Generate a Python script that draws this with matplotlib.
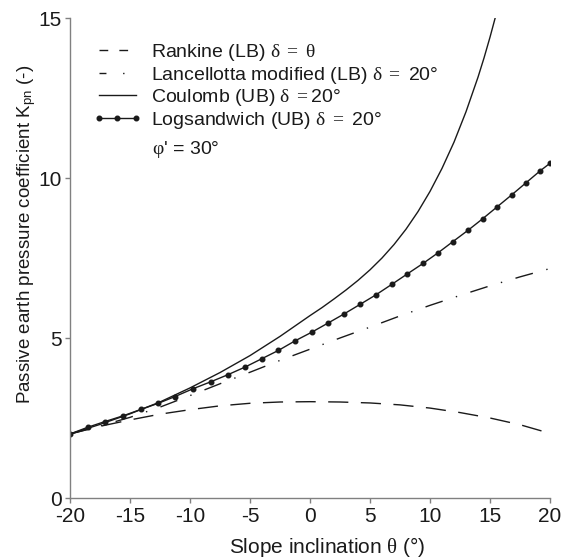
import matplotlib
matplotlib.use("Agg")
import matplotlib.pyplot as plt
from matplotlib.lines import Line2D

plt.rcParams['font.family'] = ['Liberation Sans', 'DejaVu Sans']
plt.rcParams['mathtext.fontset'] = 'custom'
plt.rcParams['mathtext.rm'] = 'Liberation Serif'
plt.rcParams['mathtext.it'] = 'Liberation Serif:italic'
plt.rcParams['mathtext.sf'] = 'Liberation Sans'
plt.rcParams['lines.scale_dashes'] = False

# ---- data ----
theta_grid = [-20, -17.5, -15, -12.5, -10, -7.5, -5, -2.5, 0, 2.5, 5, 7.5, 10, 12.5, 15, 17.5, 20]
rankine_k = [2.0, 2.24, 2.44, 2.62, 2.76, 2.88, 2.96, 3.0, 3.01, 3.0, 2.97, 2.91, 2.81, 2.67, 2.5, 2.29, 2.02]
lancellotta_k = [2.0, 2.25, 2.52, 2.84, 3.2, 3.57, 3.93, 4.3, 4.65, 5.0, 5.34, 5.69, 6.02, 6.33, 6.63, 6.91, 7.17]

coulomb_theta = [-20, -17.5, -15, -12.5, -10, -7.5, -5, -2.5, 0, 1, 2, 3, 4, 5, 6, 7, 8, 9, 10,
                 11, 12, 13, 14, 14.5, 15, 15.43]
coulomb_k = [2.0, 2.3, 2.63, 3.0, 3.44, 3.92, 4.45, 5.05, 5.7, 5.95, 6.22, 6.5, 6.8, 7.13, 7.5, 7.92,
             8.4, 8.95, 9.58, 10.3, 11.12, 12.07, 13.15, 13.75, 14.4, 15.0]

logsandwich_theta = [-20, -18.53, -17.08, -15.56, -14.08, -12.64, -11.25, -9.78, -8.28, -6.86, -5.42,
                     -4.03, -2.64, -1.25, 0.14, 1.47, 2.83, 4.17, 5.5, 6.83, 8.1, 9.42, 10.7, 11.9,
                     13.2, 14.4, 15.6, 16.8, 18.0, 19.2, 20.0]
logsandwich_k = [2.0, 2.21, 2.39, 2.57, 2.77, 2.96, 3.17, 3.41, 3.63, 3.85, 4.09, 4.35, 4.61, 4.91,
                 5.18, 5.46, 5.75, 6.05, 6.35, 6.68, 7.0, 7.33, 7.67, 8.01, 8.375, 8.73, 9.1, 9.47,
                 9.85, 10.23, 10.46]

x_ticks = [-20, -15, -10, -5, 0, 5, 10, 15, 20]
y_ticks = [0, 5, 10, 15]

labels = [r"Rankine (LB) $\mathrm{\delta\ =\ \theta}$",
          r"Lancellotta modified (LB) $\mathrm{\delta\ =}$ 20°",
          r"Coulomb (UB) $\mathrm{\delta\ =}$20°",
          r"Logsandwich (UB) $\mathrm{\delta\ =}$ 20°"]

# ---- figure ----
fig = plt.figure(figsize=(5.62, 5.60), dpi=100)
ax = fig.add_axes([70/562, 62/560, 480/562, 480/560])

col = '#1a1a1a'
lw = 1.0
ax.plot(theta_grid, rankine_k, color=col, lw=lw, linestyle=(0, (14.5, 9)))
ax.plot(theta_grid, lancellotta_k, color=col, lw=lw, linestyle=(0, (13, 10, 1, 10)))
ax.plot(coulomb_theta, coulomb_k, color=col, lw=lw)
ax.plot(logsandwich_theta, logsandwich_k, color=col, lw=lw, marker='o', markersize=3.3)

ax.set_xlim(-20, 20)
ax.set_ylim(0, 15)
ax.set_xticks(x_ticks)
ax.set_yticks(y_ticks)
ax.set_xticklabels([str(v) for v in x_ticks])

for s in ['top', 'right']:
    ax.spines[s].set_visible(False)
for s in ['left', 'bottom']:
    ax.spines[s].set_color('#808080')
    ax.spines[s].set_linewidth(1.0)
ax.tick_params(direction='out', length=3.6, width=1.0, color='#808080',
               labelsize=15, labelcolor='#1a1a1a')
ax.tick_params(axis='x', pad=3.2)
ax.tick_params(axis='y', pad=2.5)

ax.set_xlabel(r"Slope inclination $\mathrm{\theta}$ (°)", fontsize=15, color='#1a1a1a')
ax.xaxis.set_label_coords(0.535, -0.077)
ax.set_ylabel(r"Passive earth pressure coefficient K$_{\mathsf{pn}}$ (-)", fontsize=13.5, color='#1a1a1a')
ax.yaxis.set_label_coords(-0.0667, 0.55)

handles = [Line2D([], [], color=col, lw=lw, linestyle=(0, (6.3, 8))),
           Line2D([], [], color=col, lw=lw, linestyle=(0, (5, 12, 1, 12))),
           Line2D([], [], color=col, lw=lw),
           Line2D([], [], color=col, lw=lw, marker='o', markersize=3.3)]

leg = ax.legend(handles, labels, loc='upper left', bbox_to_anchor=(0.048, 0.950),
                frameon=False, fontsize=14, handlelength=2.5, handletextpad=0.5,
                labelspacing=0.08, borderpad=0, borderaxespad=0, numpoints=3)
for t in leg.get_texts():
    t.set_color('#1a1a1a')

ax.text((152 - 70) / 480, 1 - (149 - 18) / 480, r"$\mathrm{\varphi}$' = 30°", transform=ax.transAxes,
        fontsize=14, color='#1a1a1a', va='center', ha='left')

fig.savefig("out.png", dpi=100)
